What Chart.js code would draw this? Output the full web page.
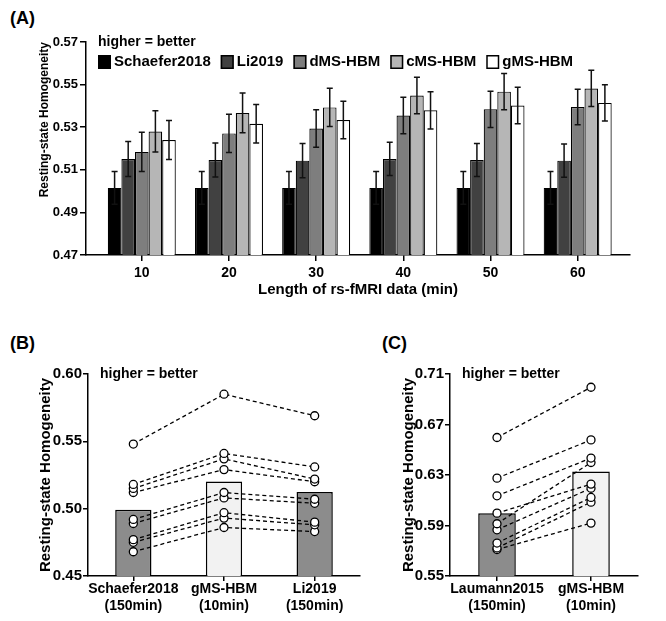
<html>
<head>
<title>Resting-state homogeneity</title>
<script src="https://cdn.jsdelivr.net/npm/chart.js"></script>
<style>
  body { margin: 0; background: #fff; width: 666px; height: 621px; position: relative; overflow: hidden; }
  canvas { position: absolute; }
  .tag { position: absolute; font: bold 18px "Liberation Sans", Arial, sans-serif; color: #000; }
</style>
</head>
<body>
<div class="tag" style="left:10px; top:8px;">(A)</div>
<div class="tag" style="left:10px; top:333px;">(B)</div>
<div class="tag" style="left:382px; top:333px;">(C)</div>
<canvas id="chartA" width="666" height="300" style="left:0; top:0;"></canvas>
<canvas id="chartB" width="380" height="321" style="left:0; top:300px;"></canvas>
<canvas id="chartC" width="286" height="321" style="left:380px; top:300px;"></canvas>

<script>
const FONT = '"Liberation Sans", Arial, sans-serif';
Chart.defaults.font.family = FONT;
Chart.defaults.color = '#000';

// panel A: group-level homogeneity vs length of data
const minutes = [10, 20, 30, 40, 50, 60];
const methodsA = ['Schaefer2018', 'Li2019', 'dMS-HBM', 'cMS-HBM', 'gMS-HBM'];
const schaeferA = [0.5015, 0.5015, 0.5015, 0.5015, 0.5015, 0.5015];
const li2019A = [0.5151, 0.5146, 0.5143, 0.5151, 0.5146, 0.5143];
const dmsA = [0.5184, 0.5271, 0.5294, 0.5355, 0.5384, 0.5395];
const cmsA = [0.5280, 0.5367, 0.5393, 0.5449, 0.5467, 0.5482];
const gmsA = [0.5240, 0.5316, 0.5334, 0.5379, 0.5402, 0.5414];
const schaeferErr = [0.0077, 0.0077, 0.0077, 0.0077, 0.0077, 0.0077];
const li2019Err = [0.0082, 0.0080, 0.0080, 0.0078, 0.0078, 0.0078];
const dmsErr = [0.0092, 0.0090, 0.0088, 0.0086, 0.0085, 0.0083];
const cmsErr = [0.0097, 0.0093, 0.0090, 0.0086, 0.0085, 0.0085];
const gmsErr = [0.0092, 0.0090, 0.0088, 0.0087, 0.0086, 0.0085];
const ticksA = [0.47, 0.49, 0.51, 0.53, 0.55, 0.57];

// panel B: per-subject values
const methodsB = [['Schaefer2018', '(150min)'], ['gMS-HBM', '(10min)'], ['Li2019', '(150min)']];
const meansB = [0.4992, 0.5202, 0.5123];
const subjectsB = [
  [0.548, 0.585, 0.569],
  [0.518, 0.541, 0.531],
  [0.515, 0.537, 0.522],
  [0.512, 0.529, 0.520],
  [0.492, 0.512, 0.507],
  [0.489, 0.508, 0.504],
  [0.477, 0.497, 0.490],
  [0.475, 0.493, 0.488],
  [0.468, 0.486, 0.483]
];
const ticksB = [0.45, 0.50, 0.55, 0.60];

// panel C
const methodsC = [['Laumann2015', '(150min)'], ['gMS-HBM', '(10min)']];
const meansC = [0.5998, 0.6327];
const subjectsC = [
  [0.6597, 0.6995],
  [0.6275, 0.6578],
  [0.6135, 0.6434],
  [0.5998, 0.6228],
  [0.5914, 0.6399],
  [0.5866, 0.6195],
  [0.5761, 0.6122],
  [0.5722, 0.6085],
  [0.5710, 0.5919]
];
const ticksC = [0.55, 0.59, 0.63, 0.67, 0.71];

const seriesA = [schaeferA, li2019A, dmsA, cmsA, gmsA];
const errorsA = [schaeferErr, li2019Err, dmsErr, cmsErr, gmsErr];
const colorsA = ['#000000', '#414141', '#7e7e7e', '#b6b6b6', '#ffffff'];

const errorBars = {
  id: 'errorBars',
  afterDatasetsDraw(chart) {
    const { ctx, scales: { y } } = chart;
    ctx.save();
    ctx.strokeStyle = '#111';
    ctx.lineWidth = 1.5;
    chart.data.datasets.forEach((ds, i) => {
      chart.getDatasetMeta(i).data.forEach((bar, j) => {
        const v = ds.data[j].y, e = ds.errors[j];
        const top = y.getPixelForValue(v + e), bot = y.getPixelForValue(v - e);
        ctx.beginPath();
        ctx.moveTo(bar.x, top); ctx.lineTo(bar.x, bot);
        ctx.moveTo(bar.x - 3, top); ctx.lineTo(bar.x + 3, top);
        ctx.moveTo(bar.x - 3, bot); ctx.lineTo(bar.x + 3, bot);
        ctx.stroke();
      });
    });
    ctx.restore();
  }
};

const note = {
  id: 'note',
  afterDraw(chart) {
    const { ctx, chartArea } = chart;
    ctx.save();
    ctx.fillStyle = '#000';
    ctx.textBaseline = 'middle';
    ctx.font = 'bold 14px ' + FONT;
    ctx.fillText('higher = better', chartArea.left + 12, chartArea.top);
    ctx.restore();
  }
};

const legendA = {
  id: 'legendA',
  afterDraw(chart) {
    const { ctx, chartArea } = chart;
    ctx.save();
    ctx.font = 'bold 15px ' + FONT;
    ctx.textBaseline = 'middle';
    ctx.lineWidth = 1.5;
    ctx.strokeStyle = '#000';
    let x = chartArea.left + 12;
    const yMid = chartArea.top + 20;
    chart.data.datasets.forEach(ds => {
      ctx.fillStyle = ds.backgroundColor;
      ctx.fillRect(x, yMid - 7, 13, 14);
      ctx.strokeRect(x + 0.75, yMid - 6.25, 11.5, 12.5);
      ctx.fillStyle = '#000';
      ctx.fillText(ds.label, x + 16, yMid);
      x += 16 + ctx.measureText(ds.label).width + 10;
    });
    ctx.restore();
  }
};

const setTicks = list => scale => { scale.ticks = list.map(v => ({ value: v })); };
const bold = size => ({ size: size, weight: 'bold' });

new Chart(document.getElementById('chartA'), {
  type: 'bar',
  data: {
    datasets: seriesA.map((s, i) => ({
      label: methodsA[i],
      data: minutes.map((m, j) => ({ x: m, y: s[j] })),
      errors: errorsA[i],
      backgroundColor: colorsA[i],
      borderColor: '#000',
      borderWidth: 1.2,
      categoryPercentage: 0.78,
      barPercentage: 1
    }))
  },
  options: {
    responsive: false,
    animation: false,
    layout: { padding: { left: 0, right: 36, top: 42, bottom: 0 } },
    plugins: { legend: { display: false }, tooltip: { enabled: false } },
    scales: {
      x: {
        type: 'linear', min: 3.6, max: 66, offset: false,
        afterBuildTicks: setTicks(minutes),
        afterFit: s => { s.height = 45; },
        grid: { display: true, offset: false, drawOnChartArea: false, tickLength: 6, color: '#000', lineWidth: 1.5 },
        border: { color: '#000', width: 1.5 },
        ticks: { font: bold(14), padding: 4, maxRotation: 0 },
        title: { display: true, text: 'Length of rs-fMRI data (min)', font: bold(15), padding: { top: 0, bottom: 1 } }
      },
      y: {
        min: 0.47, max: 0.57,
        afterBuildTicks: setTicks(ticksA),
        afterFit: s => { s.width = 86; },
        grid: { display: true, drawOnChartArea: false, tickLength: 6, color: '#000', lineWidth: 1.5 },
        border: { color: '#000', width: 1.5 },
        ticks: { font: bold(13), padding: 2, callback: v => v.toFixed(2) },
        title: { display: true, text: 'Resting-state Homogeneity', align: 'end', font: bold(12), padding: { top: 37, bottom: 0 } }
      }
    }
  },
  plugins: [errorBars, legendA, note]
});

function pairedChart(id, labels, means, subjects, ticks, barColors, geom) {
  const datasets = [{
    type: 'bar',
    data: means,
    backgroundColor: barColors,
    borderColor: '#000',
    borderWidth: 1.5,
    barPercentage: 0.4,
    categoryPercentage: 1,
    order: 2
  }].concat(subjects.map(s => ({
    type: 'line',
    data: s,
    borderColor: '#000',
    borderWidth: 1.3,
    borderDash: [4, 3],
    pointRadius: 4,
    pointBackgroundColor: '#fff',
    pointBorderColor: '#000',
    pointBorderWidth: 1.3,
    fill: false,
    order: 1
  })));
  return new Chart(document.getElementById(id), {
    type: 'bar',
    data: { labels: labels, datasets: datasets },
    options: {
      responsive: false,
      animation: false,
      layout: { padding: { left: 0, right: geom.right, top: 74, bottom: 0 } },
      plugins: { legend: { display: false }, tooltip: { enabled: false } },
      scales: {
        x: {
          offset: true,
          afterFit: s => { s.height = 45; },
          grid: { display: true, offset: false, drawOnChartArea: false, tickLength: 5, color: '#000', lineWidth: 1.5 },
          border: { color: '#000', width: 1.5 },
          ticks: { font: bold(14), padding: 0, maxRotation: 0, autoSkip: false }
        },
        y: {
          min: ticks[0], max: ticks[ticks.length - 1],
          afterBuildTicks: setTicks(ticks),
          afterFit: s => { s.width = geom.axis; },
          grid: { display: true, drawOnChartArea: false, tickLength: 5, color: '#000', lineWidth: 1.5 },
          border: { color: '#000', width: 1.5 },
          ticks: { font: bold(15), padding: 1, callback: v => v.toFixed(2) },
          title: { display: true, text: 'Resting-state Homogeneity', font: bold(15), padding: { top: geom.title, bottom: 0 } }
        }
      }
    },
    plugins: [note]
  });
}

pairedChart('chartB', methodsB, meansB, subjectsB, ticksB, ['#8c8c8c', '#f2f2f2', '#8c8c8c'], { axis: 88, right: 20, title: 37 });
pairedChart('chartC', methodsC, meansC, subjectsC, ticksC, ['#8c8c8c', '#f2f2f2'], { axis: 70, right: 28, title: 20 });
</script>
</body>
</html>
